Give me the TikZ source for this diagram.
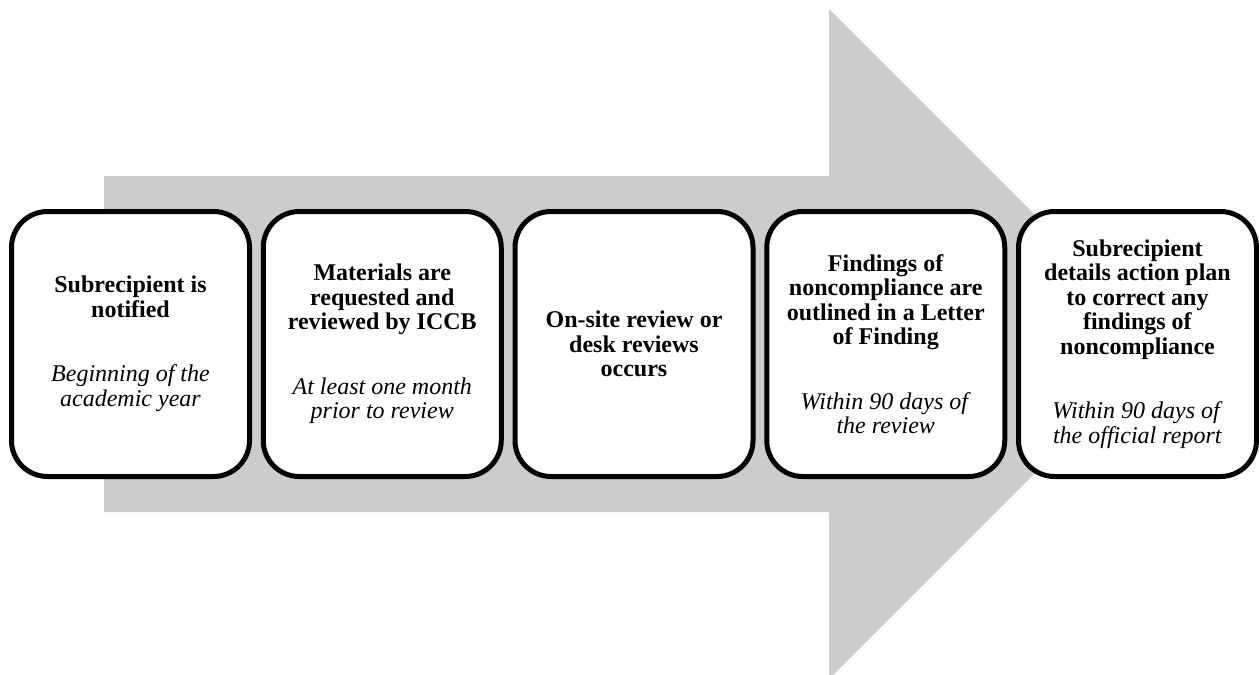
\documentclass[tikz,border=0pt]{standalone}
\usepackage{fontspec}
\setmainfont{Liberation Serif}
\begin{document}
\begin{tikzpicture}[x=1pt,y=-1pt,
  stagebox/.style={draw=black,line width=5pt,fill=white,rounded corners=36pt,
    minimum width=238pt,minimum height=265pt,inner sep=0pt},
  stagetext/.style={align=center,font=\fontsize{24}{24.5}\selectfont,inner sep=0pt},
  arrowfill/.style={fill=black!20,draw=none}]
\useasboundingbox (0,0) rectangle (1259,675);
% big background arrow
\fill[arrowfill] (104,176) -- (829,176) -- (829,9) -- (1164,344) -- (829,679) -- (829,512) -- (104,512) -- cycle;
% stage boxes
\node[stagebox] (s1) at (130.5,344) {};
\node[stagebox] (s2) at (382.25,344) {};
\node[stagebox] (s3) at (634,344) {};
\node[stagebox] (s4) at (885.75,344) {};
\node[stagebox] (s5) at (1137.5,344) {};
% texts
\node[stagetext] (t1) at (s1.center) {\textbf{Subrecipient is}\\\textbf{notified}\\[40pt]\textit{Beginning of the}\\\textit{academic year}};
\node[stagetext] (t2) at (s2.center) {\textbf{Materials are}\\\textbf{requested and}\\\textbf{reviewed by ICCB}\\[40pt]\textit{At least one month}\\\textit{prior to review}};
\node[stagetext] (t3) at (s3.center) {\textbf{On-site review or}\\\textbf{desk reviews}\\\textbf{occurs}};
\node[stagetext] (t4) at (s4.center) {\textbf{Findings of}\\\textbf{noncompliance are}\\\textbf{outlined in a Letter}\\\textbf{of Finding}\\[40pt]\textit{Within 90 days of}\\\textit{the review}};
\node[stagetext] (t5) at (s5.center) {\textbf{Subrecipient}\\\textbf{details action plan}\\\textbf{to correct any}\\\textbf{findings of}\\\textbf{noncompliance}\\[40pt]\textit{Within 90 days of}\\\textit{the official report}};
\end{tikzpicture}
\end{document}
